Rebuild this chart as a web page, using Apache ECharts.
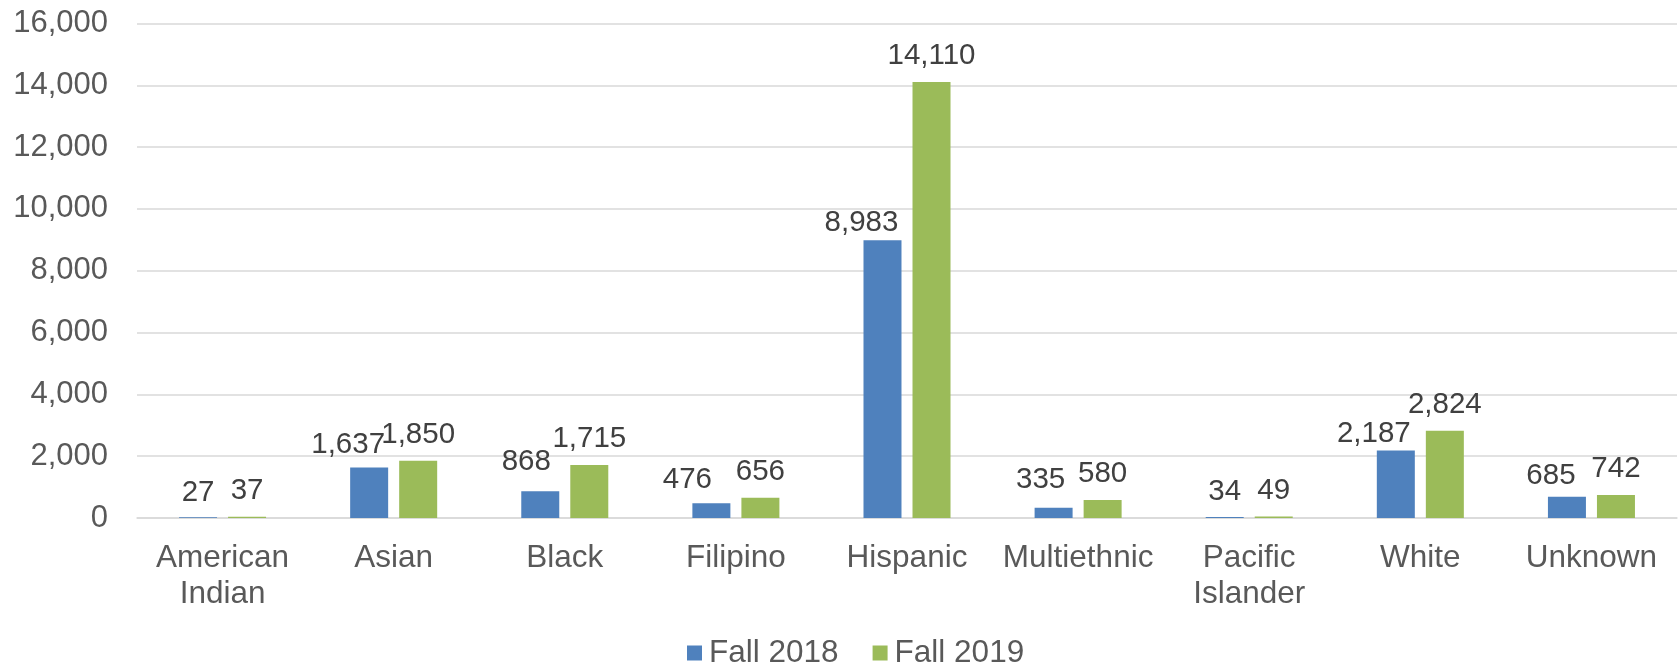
<!DOCTYPE html>
<html>
<head>
<meta charset="utf-8">
<script src="https://cdn.jsdelivr.net/npm/echarts@6/dist/echarts.min.js"></script>
<style>
  html, body { margin: 0; padding: 0; background: #fff; }
  #chart { width: 1679px; height: 664px; }
</style>
</head>
<body>
<div id="chart"></div>
<script>
// Enrollment by ethnicity, two fall terms
const categories = ['American\nIndian', 'Asian', 'Black', 'Filipino', 'Hispanic', 'Multiethnic', 'Pacific\nIslander', 'White', 'Unknown'];
const fall2018 = [27, 1637, 868, 476, 8983, 335, 34, 2187, 685];
const fall2019 = [37, 1850, 1715, 656, 14110, 580, 49, 2824, 742];
const seriesNames = ['Fall 2018', 'Fall 2019'];

// Hand-placed nudges for the Fall 2018 value labels, [dx, dy] in px
const fall2018LabelNudge = [[0, 2], [-21, 3], [-14, -3], [-24, 3], [-21, 8], [-13, -2], [0, 1], [-22, 9], [-16, 5]];

const FONT = '"Liberation Sans", Arial, sans-serif';
const fmt = v => v.toLocaleString('en-US');

const chart = echarts.init(document.getElementById('chart'), null, { renderer: 'canvas' });

const barLabel = {
  show: true,
  position: 'top',
  distance: 11,
  fontFamily: FONT,
  fontSize: 29.5,
  color: '#404040',
  formatter: p => fmt(p.value)
};

chart.setOption({
  animation: false,
  backgroundColor: '#ffffff',
  grid: { left: 137, right: 2, top: 23.5, bottom: 146, containLabel: false },
  legend: {
    bottom: -10,
    left: 682,
    itemWidth: 15,
    itemHeight: 15,
    itemGap: 34,
    icon: 'rect',
    textStyle: { fontFamily: FONT, fontSize: 31.5, color: '#595959', padding: [0, 0, 0, 2] },
    data: seriesNames
  },
  xAxis: {
    type: 'category',
    data: categories,
    axisTick: { show: false },
    axisLine: { show: true, lineStyle: { color: '#d9d9d9', width: 1.5 } },
    axisLabel: {
      fontFamily: FONT,
      fontSize: 31.5,
      lineHeight: 36,
      color: '#595959',
      margin: 22,
      interval: 0
    }
  },
  yAxis: {
    type: 'value',
    min: 0,
    max: 16000,
    interval: 2000,
    axisLine: { show: false },
    axisTick: { show: false },
    splitLine: { lineStyle: { color: '#d9d9d9', width: 1.5 } },
    axisLabel: {
      fontFamily: FONT,
      fontSize: 31,
      color: '#595959',
      margin: 29,
      formatter: v => fmt(v)
    }
  },
  series: [
    {
      name: seriesNames[0],
      type: 'bar',
      data: fall2018.map((v, i) => ({ value: v, label: { offset: fall2018LabelNudge[i] } })),
      barWidth: 38,
      barGap: '29%',
      itemStyle: { color: '#4F81BD' },
      label: barLabel
    },
    {
      name: seriesNames[1],
      type: 'bar',
      data: fall2019,
      barWidth: 38,
      itemStyle: { color: '#9BBB59' },
      label: barLabel
    }
  ]
});
</script>
</body>
</html>
